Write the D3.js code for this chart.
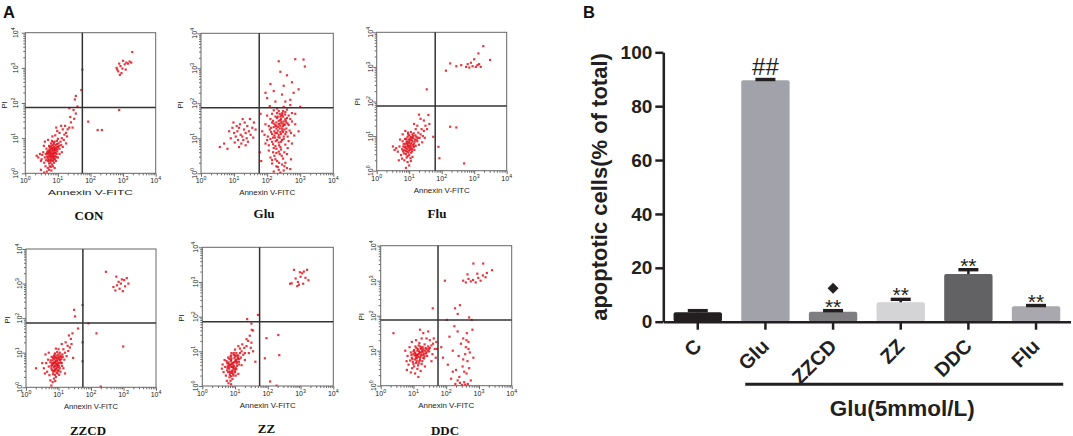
<!DOCTYPE html>
<html><head><meta charset="utf-8">
<script src="https://cdn.jsdelivr.net/npm/d3@7"></script>
<style>body{margin:0;background:#fff}svg{display:block}</style>
</head><body><svg id="c" width="1073" height="436"></svg>
<script>
// ================= DATA =================
// Panel B : bar chart
const barCategories = ["C","Glu","ZZCD","ZZ","DDC","Flu"];
const barValues     = [3.5, 89.6, 3.7, 7.2, 17.7, 5.7];
const barErrors     = [0.6, 0.3, 0.4, 1.1, 1.6, 0.3];
const barMarks      = ["", "##", "**", "**", "**", "**"];
const barExtraMarks = ["", "", "◆", "", "", ""];
const yTicks        = [0, 20, 40, 60, 80, 100];
const yTitle        = "apoptotic cells(% of total)";
const groupLabel    = "Glu(5mmol/L)";

// Panel A : flow cytometry dot plots (log10 units: [Annexin V-FITC, PI])
const flowNames = ["CON", "Glu", "Flu", "ZZCD", "ZZ", "DDC"];
const gateX = [1.75, 1.76, 1.80, 1.75, 1.75, 1.75];
const gateY = [1.87, 1.87, 1.87, 1.86, 1.85, 1.88];
const logTickExps = [0, 1, 2, 3, 4];
const xAxisTitle = "Annexin V-FITC";
const yAxisTitle = "PI";

const conPts = [[0.70,0.55],[0.75,0.60],[0.80,0.50],[0.85,0.65],[0.90,0.58],[0.78,0.70],[0.82,0.45],[0.95,0.70],[0.88,0.75],[0.72,0.40],[0.68,0.62],[0.92,0.50],[0.98,0.62],[0.84,0.55],[0.76,0.52],[0.80,0.78],[0.87,0.42],[0.93,0.80],[1.00,0.75],[0.74,0.68],[0.66,0.48],[0.81,0.62],[0.89,0.68],[0.96,0.55],[0.70,0.35],[0.63,0.55],[0.77,0.30],[1.02,0.85],[1.05,0.70],[0.86,0.88],[0.79,0.85],[0.73,0.78],[0.60,0.45],[0.65,0.70],[0.91,0.40],[0.84,0.35],[0.97,0.92],[1.08,0.90],[0.82,0.25],[0.75,0.20],[0.69,0.15],[0.88,0.30],[0.94,0.35],[1.10,0.80],[1.00,0.98],[0.78,0.58],[0.83,0.72],[0.71,0.47],[0.86,0.52],[0.91,0.66],[0.74,0.36],[0.95,0.46],[0.67,0.58],[0.79,0.40],[0.88,0.84],
[0.72,0.58],[0.76,0.64],[0.81,0.56],[0.85,0.48],[0.89,0.61],[0.93,0.66],[0.77,0.46],[0.83,0.68],[0.87,0.57],[0.80,0.71],[0.74,0.50],[0.90,0.72],[0.84,0.80],[0.96,0.74],[0.71,0.63],[0.79,0.36],[0.86,0.38],[0.93,0.58],[0.99,0.68],[0.75,0.75],[0.68,0.42],[0.82,0.92],[0.90,0.90],[0.97,0.83],[0.73,0.28],[0.88,0.46],[1.03,0.78],[0.64,0.37],[0.78,0.18],[0.85,0.20],
[0.55,0.60],[0.50,0.40],[0.58,0.30],[0.62,0.20],[0.52,0.52],[0.45,0.55],[0.48,0.35],[0.57,0.78],[0.60,0.90],[0.70,0.95],[0.83,1.05],[0.92,1.08],[1.12,1.00],[1.15,0.75],[1.18,0.95],[1.20,1.10],[1.05,1.15],[0.98,1.20],[0.73,0.10],[0.80,0.08],[0.66,0.05],[0.90,0.15],[1.00,0.45],[1.05,0.55],[0.40,0.45],[0.35,0.50],
[1.25,1.15],[1.30,1.25],[1.28,1.05],[1.35,1.30],[1.22,1.35],[1.40,1.45],[1.45,1.30],[1.38,1.60],[1.50,1.55],[1.55,1.70],[1.48,1.80],[1.35,1.85],[1.60,1.90],[1.15,1.25],[1.10,1.35],[0.95,1.30],[1.12,0.60],[1.25,0.85],[0.48,0.10],[0.58,0.02],
[1.75,2.95],[1.72,2.37],[1.55,2.20],[1.93,1.47],[2.22,1.23],[2.35,1.23],[2.88,1.80],[1.52,2.10],
[2.80,3.00],[2.85,2.90],[2.92,3.05],[2.98,2.98],[3.05,3.10],[3.10,3.15],[3.15,3.12],[3.20,3.18],[2.95,2.85],[2.88,3.12],[3.00,3.20],[3.25,3.15],[3.28,3.45],[2.82,2.95],[3.08,2.95],[2.90,2.80]];

const gluPts = [[1.10,1.20],[1.20,1.10],[1.30,1.25],[1.25,1.05],[1.15,1.30],[1.35,1.15],[1.05,1.05],[1.40,1.35],[1.28,0.95],[1.18,1.40],[1.45,1.20],[1.00,1.15],[0.95,1.30],[1.32,1.45],[1.50,1.10],[1.22,0.85],[1.12,0.95],[0.90,1.00],[1.38,1.00],[1.55,1.30],[1.60,1.45],[1.08,1.35],[0.85,1.20],[1.42,0.90],[0.70,0.85],[0.57,0.75],[0.80,0.70],[1.65,1.25],[1.48,1.55],[1.26,1.55],[1.02,0.88],[1.15,0.75],[1.35,0.80],[0.98,1.45],[1.58,1.02],
[2.20,0.05],[2.35,0.10],[2.50,0.08],[2.28,0.20],[2.45,0.25],[2.60,0.15],[2.15,0.28],[2.40,0.02],[2.55,0.30],[2.70,0.12],[2.32,0.18],
[2.10,0.45],[2.25,0.40],[2.38,0.55],[2.18,0.60],[2.30,0.35],[2.48,0.42],[2.05,0.65],[2.22,0.50],[2.42,0.68],[2.60,0.55],[2.35,0.62],[2.15,0.38],[2.52,0.60],[2.72,0.40],[2.28,0.70],
[1.95,0.85],[2.05,0.80],[2.15,0.90],[2.25,0.78],[2.35,0.88],[2.45,0.95],[2.55,0.82],[2.65,0.92],[2.10,0.98],[2.20,0.72],[2.30,0.95],[2.40,0.75],[2.50,0.98],[2.75,0.85],[2.00,0.95],[2.18,0.83],[2.62,0.72],
[1.92,1.10],[2.02,1.05],[2.12,1.18],[2.22,1.08],[2.32,1.22],[2.42,1.12],[2.52,1.25],[2.62,1.05],[2.72,1.15],[2.08,1.25],[2.18,1.02],[2.28,1.28],[2.38,1.02],[2.48,1.18],[2.58,1.28],[2.68,1.22],[2.82,1.08],[2.25,1.15],[2.35,1.10],[2.45,1.28],[2.15,1.12],[2.55,1.12],[2.95,1.20],
[1.95,1.40],[2.05,1.35],[2.15,1.45],[2.25,1.38],[2.35,1.50],[2.45,1.42],[2.55,1.55],[2.65,1.38],[2.75,1.48],[2.10,1.55],[2.20,1.32],[2.30,1.58],[2.40,1.35],[2.50,1.48],[2.60,1.58],[2.70,1.55],[2.85,1.40],[2.28,1.45],[2.38,1.42],[2.48,1.35],[2.18,1.50],[2.58,1.45],[2.42,1.55],[2.33,1.33],[2.53,1.38],[2.43,1.65],
[2.22,1.20],[2.30,1.15],[2.38,1.28],[2.46,1.22],[2.27,1.35],[2.35,1.40],[2.43,1.47],[2.51,1.40],[2.20,1.42],[2.32,1.62],[2.40,1.52],[2.48,1.62],[2.56,1.50],[2.26,0.92],[2.34,1.03],[2.42,0.90],[2.50,1.05],[2.24,1.02],[2.36,0.80],[2.46,1.72],[2.54,1.68],[2.30,1.72],[2.62,1.42],[2.12,1.30],[2.58,1.18],[2.40,1.18],[2.28,0.58],[2.44,0.50],[2.36,0.30],[2.52,0.20],
[2.00,1.65],[2.15,1.70],[2.25,1.62],[2.35,1.78],[2.45,1.68],[2.55,1.75],[2.65,1.65],[2.75,1.72],[2.30,1.85],[2.40,1.62],[2.50,1.90],[2.60,1.82],[2.20,1.80],[2.08,1.92],[2.70,1.95],[2.85,1.70],[2.38,1.70],[2.48,1.78],
[2.00,2.15],[2.20,2.35],[2.45,2.25],[2.70,2.10],[2.50,2.50],[2.75,2.60],[2.60,2.80],[2.40,2.90],[2.85,3.26],[3.14,3.05],[3.10,3.25],[2.35,3.20],[2.10,2.55],[2.95,2.40],[1.95,2.30],[2.55,2.05],[2.80,2.30],[3.00,1.90],[2.25,2.05],
[1.80,1.70],[1.85,1.20],[1.78,0.60],[1.82,0.35]];

const fluPts = [[0.95,0.75],[1.00,0.80],[1.05,0.70],[1.10,0.85],[0.90,0.65],[0.98,0.90],[1.08,0.95],[0.92,0.85],[1.02,0.60],[1.15,0.78],[0.88,0.78],[0.85,0.60],[1.12,1.00],[1.00,1.02],[0.93,0.55],[1.06,0.52],[1.18,0.90],[0.97,0.68],[1.03,0.88],[0.87,0.92],[1.20,0.72],[0.82,0.70],[1.09,0.62],[0.95,0.98],[1.14,1.08],[0.90,0.48],[1.22,0.98],[0.80,0.85],[1.00,0.45],[1.25,0.85],[1.05,1.12],[0.84,0.50],[0.96,1.10],[1.16,0.60],[0.78,0.62],[1.10,0.40],[0.92,0.38],[1.01,0.72],[0.94,0.82],[1.07,0.80],[0.89,0.70],[1.13,0.68],[0.99,0.58],
[0.96,0.72],[1.04,0.76],[1.11,0.74],[0.99,0.84],[1.07,0.89],[0.93,0.79],[1.01,0.66],[1.09,0.56],[0.94,0.62],[1.17,0.84],[1.05,0.98],[0.98,0.52],[1.12,0.94],[0.86,0.68],[1.19,1.02],[0.91,0.92],[1.02,0.93],[1.15,0.70],[0.89,0.57],[1.06,0.64],[0.97,1.05],[1.23,0.90],[0.83,0.77],[1.10,1.05],[0.95,0.42],[1.04,0.36],[0.81,0.56],[1.27,0.95],
[0.70,0.70],[0.65,0.55],[0.75,0.45],[0.72,0.90],[0.80,1.05],[0.88,1.15],[1.28,1.10],[1.32,0.95],[1.35,1.05],[1.30,0.75],[1.20,1.20],[0.60,0.65],[0.55,0.60],[0.85,0.30],[0.95,0.25],[1.00,0.15],[0.90,0.08],[1.05,0.28],[0.78,0.35],[1.38,1.20],[1.42,1.00],[1.45,1.15],[1.25,1.30],[1.15,1.35],[1.40,0.82],[0.50,0.70],[0.68,0.30],
[1.50,1.30],[1.59,1.61],[1.45,1.45],[1.55,1.20],[1.35,1.50],[1.62,1.35],[1.74,0.98],[1.54,2.35],[1.90,0.69],[1.93,0.36],[2.26,1.27],[2.45,1.25],[2.69,0.21],[1.30,1.62],[1.48,0.95],
[2.13,2.89],[2.26,3.10],[2.45,3.02],[2.60,3.05],[2.75,3.00],[2.85,2.98],[2.95,3.02],[3.05,3.00],[3.10,3.05],[3.15,3.08],[2.90,3.12],[3.00,3.22],[3.13,3.39],[3.28,3.60],[3.49,3.20],[3.20,3.00],[2.80,3.08]];

const zzcdPts = [[0.85,0.70],[0.90,0.75],[0.95,0.65],[1.00,0.80],[0.92,0.85],[0.88,0.60],[0.98,0.72],[1.05,0.78],[0.82,0.78],[0.94,0.55],[1.02,0.62],[0.86,0.90],[0.96,0.92],[1.08,0.88],[0.80,0.65],[0.91,0.48],[1.00,0.50],[0.78,0.55],[1.10,0.70],[0.84,0.45],[0.97,0.40],[0.89,0.98],[1.04,1.00],[0.75,0.72],[1.12,0.95],[0.93,0.68],[0.87,0.82],[1.01,0.88],[0.79,0.88],[0.99,0.58],[0.83,0.38],[1.06,0.45],[0.92,0.30],[0.86,0.25],[0.90,0.62],[0.95,0.78],[1.03,0.70],[0.84,0.66],[0.97,0.85],[0.88,0.52],
[0.87,0.72],[0.93,0.77],[0.98,0.66],[1.03,0.82],[0.90,0.88],[0.85,0.58],[0.96,0.60],[1.07,0.72],[0.81,0.70],[0.92,0.52],[1.00,0.95],[0.88,0.94],[1.09,0.82],[0.78,0.62],[0.94,0.42],[1.04,0.55],[0.83,0.85],[1.13,0.88],[0.96,1.02],[0.89,0.36],[1.06,0.92],[0.76,0.78],[0.99,0.47],[0.86,0.47],[1.11,0.62],[0.80,0.50],[1.02,0.36],[0.91,0.70],
[0.70,0.60],[0.65,0.45],[0.68,0.80],[0.72,0.35],[0.62,0.70],[0.55,0.55],[0.58,0.40],[0.75,0.20],[0.82,0.15],[0.90,0.18],[0.78,0.05],[1.15,0.55],[1.18,0.80],[1.20,1.00],[1.25,0.90],[1.15,1.10],[1.00,1.10],[0.92,1.12],[1.30,1.05],[1.28,1.20],[1.35,1.15],[1.40,1.25],[1.22,1.30],[1.38,1.40],[1.43,1.56],[1.32,1.50],[1.10,1.25],[0.70,1.00],[0.60,0.95],[0.31,0.55],[0.50,0.70],[1.45,0.85],[1.20,0.40],
[1.48,2.24],[1.51,2.05],[1.74,2.38],[1.92,1.85],[2.17,1.56],[2.99,1.18],[1.74,1.30],[1.74,0.75],[2.30,0.02],[1.60,1.70],
[2.46,3.34],[2.69,2.90],[2.75,2.80],[2.80,2.95],[2.88,2.85],[2.92,3.00],[2.98,2.78],[3.02,3.10],[3.05,2.92],[3.10,3.16],[2.85,3.05],[2.78,3.20],[3.15,3.00],[2.95,3.12]];

const zzPts = [[0.85,0.60],[0.90,0.65],[0.95,0.55],[1.00,0.70],[0.88,0.75],[0.82,0.50],[0.98,0.80],[1.05,0.65],[0.80,0.68],[0.92,0.45],[1.02,0.52],[0.86,0.85],[0.96,0.90],[1.08,0.78],[0.78,0.58],[0.90,0.38],[1.00,0.40],[0.76,0.45],[1.10,0.88],[0.84,0.32],[0.95,0.30],[0.89,0.95],[1.04,0.95],[0.74,0.72],[1.12,0.70],[0.93,0.62],[0.87,0.72],[1.01,0.85],[0.79,0.82],[0.99,0.48],[0.83,0.25],[1.06,0.58],[0.92,0.20],[0.86,0.15],[1.15,0.95],[1.18,0.82],[0.91,0.55],[0.97,0.68],[0.84,0.42],[1.03,0.75],
[0.87,0.62],[0.93,0.67],[0.97,0.58],[1.02,0.73],[0.89,0.80],[0.83,0.55],[0.95,0.50],[1.06,0.70],[0.81,0.63],[0.91,0.42],[1.00,0.88],[0.88,0.88],[1.09,0.82],[0.77,0.52],[0.94,0.35],[1.04,0.48],[0.83,0.78],[1.13,0.78],[0.96,0.95],[0.88,0.28],[1.06,0.88],[0.76,0.66],[0.99,0.42],[0.85,0.38],[1.12,0.62],[0.79,0.40],[1.02,0.30],[0.90,0.55],
[0.70,0.55],[0.65,0.40],[0.68,0.75],[0.72,0.30],[0.62,0.62],[0.60,0.50],[0.75,0.15],[0.80,0.08],[0.88,0.05],[1.20,1.00],[1.25,0.90],[1.15,1.08],[1.00,1.05],[1.28,1.10],[1.30,0.95],[1.35,1.15],[1.22,1.20],[1.40,1.30],[1.45,1.45],[1.51,1.62],[1.35,1.35],[1.10,1.15],[1.48,1.10],[1.42,0.95],[1.20,0.60],[1.30,0.75],[1.55,1.00],[1.50,1.25],[1.10,0.35],[1.62,0.70],[1.37,1.93],[1.55,1.60],
[1.96,1.38],[2.32,1.47],[1.91,0.80],[2.07,0.13],[2.27,0.01],[2.35,0.89],[1.70,2.05],[1.50,1.80],
[2.68,2.95],[2.73,2.96],[2.80,3.35],[2.85,3.10],[2.90,2.88],[2.95,2.92],[3.00,3.15],[3.05,3.25],[3.10,3.30],[3.15,3.12],[3.20,3.35],[3.24,3.05],[2.92,3.00],[3.08,2.95],[2.98,3.28]];

const ddcPts = [[1.10,0.85],[1.15,0.90],[1.20,0.80],[1.25,0.95],[1.05,0.75],[1.12,1.00],[1.22,1.05],[1.30,0.88],[1.00,0.90],[1.08,0.65],[1.18,0.70],[1.28,1.10],[1.35,1.00],[1.02,1.02],[0.95,0.80],[1.14,0.58],[1.25,0.62],[1.40,1.05],[1.32,0.78],[0.98,0.68],[1.06,1.12],[1.16,1.15],[0.92,0.95],[1.45,1.12],[1.38,0.92],[1.20,0.95],[1.10,0.78],[1.28,0.98],[0.90,0.72],[1.02,0.55],[1.34,1.18],[1.50,1.08],[1.12,0.48],[0.96,0.50],[1.42,0.85],[1.55,1.15],[1.48,0.98],[1.18,1.22],[1.08,0.88],[1.15,0.82],[1.24,0.88],[1.04,0.95],
[1.12,0.88],[1.18,0.92],[1.22,0.84],[1.27,1.00],[1.08,0.80],[1.14,1.04],[1.24,1.08],[1.32,0.92],[1.04,0.86],[1.10,0.70],[1.20,0.74],[1.30,1.04],[1.37,1.08],[1.00,0.98],[0.97,0.76],[1.16,0.64],[1.27,0.70],[1.43,1.00],[1.34,0.84],[1.00,0.62],[1.09,1.08],[1.21,1.12],[0.94,0.88],[1.47,1.05],[1.40,0.95],[1.17,0.98],[1.06,0.92],[1.30,0.80],
[0.85,0.60],[0.82,0.85],[0.88,1.10],[0.80,0.45],[0.92,0.38],[1.05,0.35],[1.22,0.42],[1.35,0.55],[1.60,1.20],[1.65,1.05],[1.58,0.90],[1.62,1.35],[1.50,1.30],[1.40,1.35],[1.25,1.35],[1.08,1.30],[0.95,1.25],[1.30,1.50],[1.45,1.55],[1.70,1.25],[1.68,0.80],[1.55,0.70],[0.79,0.70],[0.39,1.50],[0.75,1.00],[1.15,0.25],[1.72,1.05],[1.20,1.60],
[1.85,1.10],[1.90,0.80],[2.02,1.88],[2.05,0.60],[2.10,1.40],[2.15,0.20],[2.20,1.00],[2.25,1.70],[2.28,0.05],[2.30,0.45],[2.35,1.55],[2.38,0.85],[2.40,0.25],[2.45,1.20],[2.48,0.02],[2.50,0.55],[2.52,1.35],[2.55,0.10],[2.58,0.90],[2.60,1.10],[2.62,0.35],[2.63,1.50],[2.65,0.70],[2.66,0.05],[2.68,1.25],[2.70,0.50],[2.72,0.95],[2.75,0.15],[2.78,1.88],[2.80,1.60],[2.58,0.03],[2.42,0.08],[2.52,0.75],[2.68,1.05],[2.35,0.15],[2.62,1.30],[2.55,0.40],[2.83,0.80],[2.20,0.40],
[1.59,2.21],[1.96,3.00],[2.27,2.21],[2.42,2.30],[2.35,2.05],[2.70,1.95],
[2.52,3.00],[2.60,2.95],[2.68,3.05],[2.75,2.98],[2.82,3.02],[2.90,2.95],[2.98,3.08],[3.05,3.00],[3.12,3.15],[3.20,3.10],[3.24,3.22],[2.83,3.49],[3.13,3.49],[2.65,3.18],[2.95,3.20],[3.40,3.30]];

const flowPoints = [conPts, gluPts, fluPts, zzcdPts, zzPts, ddcPts];

// ================= LAYOUT / STYLE =================
const SANS = "'Liberation Sans', Arial, sans-serif";
const SERIF = "'Liberation Serif', 'Times New Roman', serif";
const panelBoxes = [ // [left, right, top, bottom]
  [25.3,155.7,32.7,173.3],[201,333.3,33.3,173.3],[376.7,506.7,32.3,170.7],
  [26,156,249,387.3],[202.3,333.3,247.3,386],[380.7,511.7,245.7,385.7]];
const annexWidth = [85,56,56,54,56,56];
const yLabOff = [7,4,4,4,4,5];
const piPos = [[4,105],[180,105],[356.7,101.7],[6.7,320],[180.7,318],[360.7,316.7]];
const namePos = [[89,219.5],[264,218],[437,218],[88,434.5],[266.5,433],[445,434.5]];

const svg = d3.select("#c");

// ---------- Panel A ----------
svg.append("text").attr("x",3).attr("y",18).attr("font-family",SANS).attr("font-weight","bold")
  .attr("font-size",16.5).attr("fill","#111").text("A");

flowNames.forEach((name,i)=>{
  const [x0,x1,y0,y1] = panelBoxes[i];
  const xs = d3.scaleLog().domain([1,1e4]).range([x0,x1]);
  const ys = d3.scaleLog().domain([1,1e4]).range([y1,y0]);
  const g = svg.append("g");
  const allTicks = xs.ticks();
  const majors = logTickExps.map(e=>Math.pow(10,e));
  const minors = allTicks.filter(t=>!majors.includes(t));
  const styleAxis = sel => { sel.select(".domain").remove(); sel.selectAll("line").attr("stroke","#444").attr("stroke-width",0.8); };
  g.append("g").attr("transform",`translate(0,${y1})`).call(d3.axisBottom(xs).tickValues(minors).tickSize(2).tickFormat("")).call(styleAxis);
  g.append("g").attr("transform",`translate(0,${y1})`).call(d3.axisBottom(xs).tickValues(majors).tickSize(3.5).tickFormat("")).call(styleAxis);
  g.append("g").attr("transform",`translate(${x0},0)`).call(d3.axisLeft(ys).tickValues(minors).tickSize(2).tickFormat("")).call(styleAxis);
  g.append("g").attr("transform",`translate(${x0},0)`).call(d3.axisLeft(ys).tickValues(majors).tickSize(3.5).tickFormat("")).call(styleAxis);
  // dots
  const clipId = "clip"+i;
  svg.append("clipPath").attr("id",clipId).append("rect").attr("x",x0).attr("y",y0).attr("width",x1-x0).attr("height",y1-y0);
  g.append("g").attr("clip-path",`url(#${clipId})`).selectAll("rect").data(flowPoints[i]).join("rect")
    .attr("x",d=>xs(Math.pow(10,d[0]))-1.1).attr("y",d=>ys(Math.pow(10,d[1]))-1.1)
    .attr("width",2.2).attr("height",2.2).attr("fill","#e0141e").attr("opacity",0.85);
  // frame
  g.append("rect").attr("x",x0).attr("y",y0).attr("width",x1-x0).attr("height",y1-y0)
    .attr("fill","none").attr("stroke","#666").attr("stroke-width",1);
  // gates
  const gx = xs(Math.pow(10,gateX[i])), gy = ys(Math.pow(10,gateY[i]));
  g.append("line").attr("x1",gx).attr("x2",gx).attr("y1",y0).attr("y2",y1).attr("stroke","#333").attr("stroke-width",1.5);
  g.append("line").attr("x1",x0).attr("x2",x1).attr("y1",gy).attr("y2",gy).attr("stroke","#333").attr("stroke-width",1.5);
  // x tick labels
  logTickExps.forEach(e=>{
    const t = g.append("text").attr("x",xs(Math.pow(10,e))).attr("y",y1+10).attr("text-anchor","middle")
      .attr("font-family",SANS).attr("font-size",7).attr("fill","#222");
    t.append("tspan").text("10");
    t.append("tspan").attr("font-size",5.2).attr("dy",-3).text(e);
  });
  // y tick labels (rotated)
  logTickExps.forEach(e=>{
    const yy = ys(Math.pow(10,e)), xx = x0 - yLabOff[i];
    const t = g.append("text").attr("transform",`translate(${xx},${yy}) rotate(-90)`).attr("text-anchor","middle")
      .attr("font-family",SANS).attr("font-size",7).attr("fill","#222");
    t.append("tspan").text("10");
    t.append("tspan").attr("font-size",5.2).attr("dy",-3).text(e);
  });
  // axis titles
  g.append("text").attr("x",(x0+x1)/2).attr("y",y1+22).attr("text-anchor","middle")
    .attr("font-family",SANS).attr("font-size",8).attr("fill","#222")
    .attr("textLength",annexWidth[i]).attr("lengthAdjust","spacingAndGlyphs").text(xAxisTitle);
  g.append("text").attr("transform",`translate(${piPos[i][0]+3},${piPos[i][1]}) rotate(-90)`).attr("text-anchor","middle")
    .attr("font-family",SANS).attr("font-size",8).attr("fill","#222").text(yAxisTitle);
  // panel name
  g.append("text").attr("x",namePos[i][0]).attr("y",namePos[i][1]).attr("text-anchor","middle")
    .attr("font-family",SERIF).attr("font-weight","bold").attr("font-size",13).attr("fill","#111").text(name);
});

// ---------- Panel B ----------
const INK = "#231f20";
const barColors = ["#231f20","#a2a2aa","#7e7e80","#d4d4d6","#626264","#a8a8ae"];
svg.append("text").attr("x",583).attr("y",18).attr("font-family",SANS).attr("font-weight","bold")
  .attr("font-size",16.5).attr("fill","#111").text("B");

const xb = d3.scaleBand().domain(barCategories).range([663.3,1070.5]).paddingInner(0.285).paddingOuter(0.152);
const yb = d3.scaleLinear().domain([0,100]).range([321.7,52.3]);
const bw = xb.bandwidth();

const gb = svg.append("g");
gb.selectAll("rect.bar").data(barCategories).join("rect").attr("class","bar")
  .attr("x",d=>xb(d)).attr("y",(d,i)=>yb(barValues[i])).attr("width",bw)
  .attr("height",(d,i)=>yb(0)-yb(barValues[i])).attr("rx",2).attr("fill",(d,i)=>barColors[i]);

barCategories.forEach((c,i)=>{
  const cx = xb(c)+bw/2, top = yb(barValues[i]), cap = yb(barValues[i]+barErrors[i]);
  gb.append("line").attr("x1",cx).attr("x2",cx).attr("y1",top).attr("y2",cap).attr("stroke",INK).attr("stroke-width",2.5);
  gb.append("rect").attr("x",cx-10).attr("y",cap-1.7).attr("width",20).attr("height",3.4).attr("fill",INK);
  if (barMarks[i]) {
    const isHash = barMarks[i]==="##";
    gb.append("text").attr("x",cx).attr("y",isHash ? cap-4.5 : cap+3).attr("text-anchor","middle")
      .attr("font-family",SANS).attr("font-size",isHash?24:21).attr("fill",INK).text(barMarks[i]);
  }
  if (barExtraMarks[i]) {
    gb.append("path").attr("d",d3.symbol(d3.symbolSquare,60)()).attr("fill",INK)
      .attr("transform",`translate(${cx},${cap-22.5}) rotate(45)`);
  }
});

const yAx = gb.append("g").attr("transform","translate(663.3,0)")
  .call(d3.axisLeft(yb).tickValues(yTicks).tickSize(8).tickSizeOuter(0).tickPadding(3));
yAx.select(".domain").attr("stroke",INK).attr("stroke-width",2.5);
yAx.selectAll(".tick line").attr("stroke",INK).attr("stroke-width",2.5);
yAx.selectAll(".tick text").attr("font-family",SANS).attr("font-weight","bold").attr("font-size",19).attr("fill",INK);

const xAx = gb.append("g").attr("transform",`translate(0,${yb(0)})`)
  .call(d3.axisBottom(xb).tickSize(8).tickSizeOuter(0));
xAx.select(".domain").attr("stroke",INK).attr("stroke-width",2.5);
xAx.selectAll(".tick line").attr("stroke",INK).attr("stroke-width",2.5);
xAx.selectAll(".tick text").attr("x",null).attr("y",null).attr("dy","0.35em")
  .attr("transform","translate(0,21) rotate(-45)").attr("text-anchor","end")
  .attr("font-family",SANS).attr("font-weight","bold").attr("font-size",20).attr("fill",INK);

gb.append("text").attr("transform",`translate(607,${(yb(0)+yb(100))/2}) rotate(-90)`).attr("text-anchor","middle")
  .attr("font-family",SANS).attr("font-weight","bold").attr("font-size",22).attr("fill",INK).text(yTitle);

const gx0 = xb("Glu")+4, gx1 = xb("Flu")+bw+3;
gb.append("line").attr("x1",gx0).attr("x2",gx1).attr("y1",384.3).attr("y2",384.3).attr("stroke",INK).attr("stroke-width",3);
gb.append("text").attr("x",(gx0+gx1)/2-2).attr("y",416).attr("text-anchor","middle")
  .attr("font-family",SANS).attr("font-weight","bold").attr("font-size",22.5).attr("fill",INK).text(groupLabel);
</script></body></html>
